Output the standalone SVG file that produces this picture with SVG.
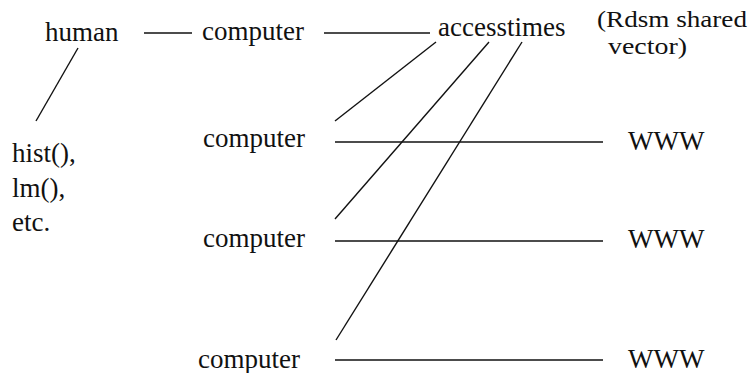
<svg xmlns="http://www.w3.org/2000/svg" width="752" height="373" viewBox="0 0 752 373">
  <style>
    text { font-family: "Liberation Serif", "Times New Roman", serif; font-size: 27px; fill: #111; }
    .note { font-size: 24px; }
    .c line { stroke: #111; stroke-width: 1.4; fill: none; }
  </style>
  <rect width="752" height="373" fill="#fff"/>
  <g id="connectors" class="c">
    <line x1="144" y1="33" x2="192" y2="33"/>
    <line x1="324" y1="33" x2="430" y2="33"/>
    <line x1="78" y1="48" x2="36" y2="121"/>
    <line x1="436" y1="42" x2="335" y2="121"/>
    <line x1="489" y1="42" x2="335" y2="219"/>
    <line x1="522" y1="42" x2="336" y2="340"/>
    <line x1="335" y1="142" x2="603" y2="142"/>
    <line x1="335" y1="241" x2="603" y2="241"/>
    <line x1="335" y1="360" x2="603" y2="360"/>
  </g>
  <g id="human"><text x="45" y="41">human</text></g>
  <g id="computer1"><text x="202" y="40">computer</text></g>
  <g id="accesstimes"><text x="438" y="36">accesstimes</text></g>
  <g id="note"><text class="note" x="597" y="27" textLength="150" lengthAdjust="spacingAndGlyphs">(Rdsm shared</text><text class="note" x="608" y="54" textLength="79" lengthAdjust="spacingAndGlyphs">vector)</text></g>
  <g id="functions"><text x="12" y="162">hist(),</text><text x="12" y="197">lm(),</text><text x="12" y="231">etc.</text></g>
  <g id="computer2"><text x="203" y="147">computer</text></g>
  <g id="computer3"><text x="203" y="247">computer</text></g>
  <g id="computer4"><text x="198" y="368">computer</text></g>
  <g id="www1"><text x="628" y="150">WWW</text></g>
  <g id="www2"><text x="628" y="248">WWW</text></g>
  <g id="www3"><text x="628" y="368">WWW</text></g>
</svg>
